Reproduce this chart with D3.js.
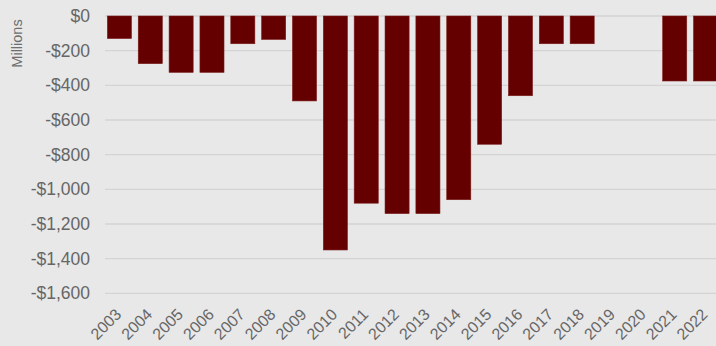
<!DOCTYPE html>
<html><head><meta charset="utf-8">
<script src="https://cdn.jsdelivr.net/npm/d3@7"></script>
<style>
html,body{margin:0;padding:0;background:#e8e8e8;}
svg{display:block;font-family:"Liberation Sans",Arial,sans-serif;}
</style></head>
<body>
<svg id="chart" width="716" height="346"></svg>
<script>
const years = ["2003","2004","2005","2006","2007","2008","2009","2010","2011","2012","2013","2014","2015","2016","2017","2018","2019","2020","2021","2022"];
const values = [-130,-275,-325,-325,-160,-135,-490,-1350,-1080,-1140,-1140,-1060,-740,-460,-160,-160,0,0,-375,-375];
const yTicks = [0,-200,-400,-600,-800,-1000,-1200,-1400,-1600];
const yLabel = "Millions";

const svg = d3.select("#chart");
const W = 716, H = 346;
svg.append("rect").attr("width",W).attr("height",H).attr("fill","#e8e8e8");

const x = d3.scaleBand().domain(years).range([104, 721]).paddingInner(0.22).paddingOuter(0.11);
const y = d3.scaleLinear().domain([-1600, 0]).range([293.3, 16]);

const fmt = v => (v < 0 ? "-$" : "$") + d3.format(",")(Math.abs(v));

// gridlines
svg.append("g").selectAll("line").data(yTicks).join("line")
  .attr("x1", 105).attr("x2", W)
  .attr("y1", d => y(d)).attr("y2", d => y(d))
  .attr("stroke", "#d4d4d4").attr("stroke-width", 1.3);

// y axis labels
const yAxis = d3.axisLeft(y).tickValues(yTicks).tickFormat(fmt).tickSize(0).tickPadding(0);
const ya = svg.append("g").attr("transform","translate(90,0)").call(yAxis);
ya.select(".domain").remove();
ya.selectAll("text").attr("font-size", 17.5).attr("fill", "#666")
  .attr("font-family", "'Liberation Sans', Arial, sans-serif");

// bars
svg.append("g").selectAll("rect").data(years.map((yr,i)=>({yr, v: values[i]}))).join("rect")
  .filter(d => d.v !== 0)
  .attr("x", d => x(d.yr))
  .attr("width", x.bandwidth())
  .attr("y", y(0))
  .attr("height", d => y(d.v) - y(0))
  .attr("fill", "#650000")
  .attr("stroke", "#7a1a1a").attr("stroke-width", 0.6);

// x axis labels
const xAxis = d3.axisBottom(x).tickSize(0).tickPadding(0);
const xa = svg.append("g").attr("transform","translate(0,300)").call(xAxis);
xa.select(".domain").remove();
xa.selectAll("text")
  .attr("font-size", 16).attr("fill", "#666")
  .attr("font-family", "'Liberation Sans', Arial, sans-serif")
  .attr("text-anchor", "end")
  .attr("y", 0)
  .attr("dy", "0.35em")
  .attr("transform", "translate(-1,11.5) rotate(-45)");

// y label
svg.append("text")
  .attr("transform", "translate(21.5,43.5) rotate(-90)")
  .attr("text-anchor", "middle")
  .attr("font-size", 14.5).attr("fill", "#6e6e6e")
  .text(yLabel);
</script>
</body></html>
